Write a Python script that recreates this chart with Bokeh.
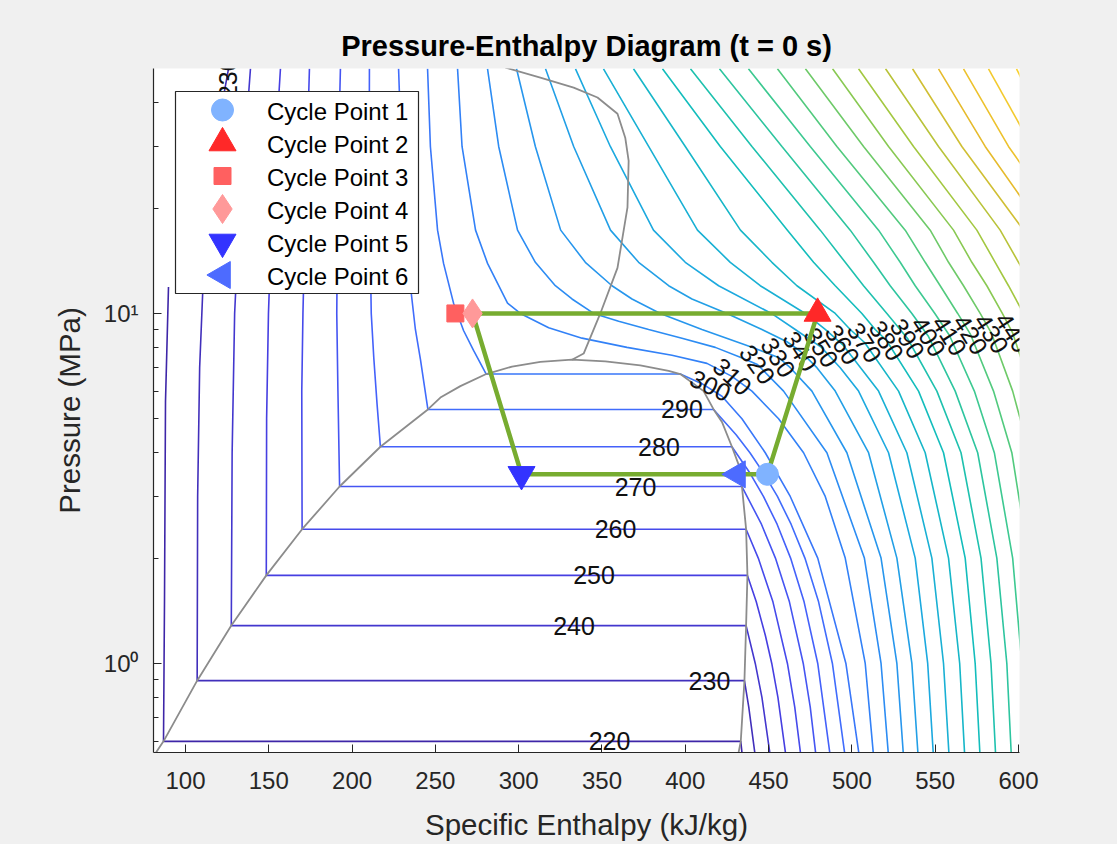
import math
from bokeh.plotting import figure
from bokeh.models import Range1d, FixedTicker, Legend, LegendItem, Label, BoxAnnotation
from bokeh.embed import file_html
from bokeh.resources import INLINE

FONT = "Liberation Sans"

# ---------------- axes ----------------
x_ticks = [100, 150, 200, 250, 300, 350, 400, 450, 500, 550, 600]
y_major = [1, 10]
y_minor = [0.6, 0.7, 0.8, 0.9, 2, 3, 4, 5, 6, 7, 8, 9, 20, 30, 40]
X_LIM = (80.8, 600.6)
Y_LIM = (0.5567, 50.1)

# ---------------- isotherms (h kJ/kg, P MPa) ----------------
T220_h = [89.8, 88.0, 87.4, 86.8, 433.3, 434.0]
T220_p = [11.9, 5.6, 1.5, 0.599, 0.599, 0.557]
T230_h = [125.8, 119, 114.5, 110.5, 108.5, 107.3, 107.0, 435.5, 438.1, 441.7]
T230_p = [50, 33, 22, 12, 7, 3, 0.893, 0.893, 0.75, 0.557]
T240_h = [139, 136, 132.5, 129.5, 128, 127.5, 436.5, 442, 446, 450.7]
T240_p = [50, 32, 20, 10, 4, 1.283, 1.283, 1.0, 0.8, 0.557]
T250_h = [157, 154.5, 152, 149.8, 148.7, 148.5, 437.3, 442.6, 448.1, 451.9, 455.6, 460.1]
T250_p = [50, 32, 20, 10, 5, 1.785, 1.785, 1.5, 1.2, 1.0, 0.8, 0.557]
T260_h = [174.4, 173.2, 172, 170.5, 169.8, 170, 436.5, 443.8, 452.6, 461.3, 465.7, 469.1]
T260_p = [50, 32, 20, 10, 6, 2.419, 2.419, 2.0, 1.5, 1.0, 0.75, 0.557]
T270_h = [193, 192, 191.3, 190.8, 191.5, 192.5, 434, 445.7, 454.1, 462.5, 470.8, 475, 478.2]
T270_p = [50, 32, 20, 10, 6, 3.203, 3.203, 2.5, 2.0, 1.5, 1.0, 0.75, 0.557]
T280_h = [210.4, 210.3, 210.5, 211.5, 213, 215, 217, 428, 438.8, 446.9, 455.1, 463.2, 471.3, 479.5, 486.7]
T280_p = [50, 32, 20, 10, 7.5, 5.5, 4.161, 4.161, 3.5, 3.0, 2.5, 2.0, 1.5, 1.0, 0.557]
T290_h = [227.9, 229.5, 232, 235, 238, 241, 245.5, 417, 430.5, 438.8, 447, 455.3, 463.5, 471.8, 480, 488.3, 495.6]
T290_p = [50, 30, 17.3, 12, 9, 7.4, 5.318, 5.318, 4.5, 4.0, 3.5, 3.0, 2.5, 2.0, 1.5, 1.0, 0.557]
T300_h = [245.3, 247, 251.3, 254.9, 260.9, 266.9, 272.9, 280.5, 397, 410, 422, 434, 448, 463, 479.5, 496.4, 504.1]
T300_p = [50, 30, 17.3, 13.9, 10.7, 8.94, 7.84, 6.713, 6.713, 6.3, 5.8, 5.0, 4.0, 3.0, 2.0, 1.0, 0.557]
T310_h = [263.3, 266, 274.1, 281.3, 293.3, 301, 318, 338, 365, 392, 413, 428, 440, 456, 471, 484, 496, 508, 512.8]
T310_p = [50, 30, 17.3, 13.9, 10.7, 10, 9.1, 8.5, 8.0, 7.6, 7.2, 6.61, 6, 5, 4, 3, 2, 1, 0.557]
T320_h = [281.3, 288, 299.3, 310, 322, 332, 345, 360, 378, 398, 418, 433, 443.3, 459, 485, 507.5, 517.5, 521.8]
T320_p = [50, 30, 17.3, 14, 12, 11, 10, 9.5, 9, 8.5, 8, 7.5, 7.15, 6, 4, 2, 1, 0.557]
T330_h = [298.7, 310, 325.2, 340, 356, 368, 385, 410, 440, 455.9, 463, 476, 497, 517.5, 527, 530.8]
T330_p = [50, 30, 17.3, 14, 12, 11, 10, 9, 8, 7.49, 7, 6, 4, 2, 1, 0.557]
T340_h = [316.1, 333, 355.1, 372, 390, 404, 425, 446, 461, 469.1, 479, 490, 510, 527, 536, 539.6]
T340_p = [50, 30, 17.3, 14, 12, 11, 10, 9, 8.3, 7.8, 7, 6, 4, 2, 1, 0.557]
T350_h = [334.1, 355, 380.9, 400, 420, 451.7, 466, 481.7, 493, 504, 522, 538, 545.5, 548.8]
T350_p = [50, 30, 17.3, 14, 12, 10, 9, 8.0, 7, 6, 4, 2, 1, 0.557]
T360_h = [350.9, 378, 407.3, 427, 445, 472, 484, 494.4, 516, 533, 548, 555, 558.2]
T360_p = [50, 30, 17.3, 14, 12, 10, 9, 8.15, 6, 4, 2, 1, 0.557]
T370_h = [368.9, 400, 433.1, 452, 467, 490, 499, 507.6, 528, 544, 558, 564.7, 567.6]
T370_p = [50, 30, 17.3, 14, 12, 10, 9, 8.26, 6, 4, 2, 1, 0.557]
T380_h = [386.3, 421, 461.3, 477, 490, 506, 514, 520.8, 540, 555, 568, 574, 576.8]
T380_p = [50, 30, 17.3, 14, 12, 10, 9, 8.37, 6, 4, 2, 1, 0.557]
T390_h = [403.1, 440, 481, 496, 507, 521, 533.4, 551, 565.5, 577.5, 583.5, 586.2]
T390_p = [50, 30, 17.3, 14, 12, 10, 8.48, 6, 4, 2, 1, 0.557]
T400_h = [420.5, 458, 499, 513, 523, 536, 546, 562, 575.5, 587, 593, 595.6]
T400_p = [50, 30, 17.3, 14, 12, 10, 8.59, 6, 4, 2, 1, 0.557]
T410_h = [437.9, 475, 516, 529, 538, 549.8, 558.6, 573.5, 585.5, 596.5, 602, 605]
T410_p = [50, 30, 17.3, 14, 12, 10, 8.65, 6, 4, 2, 1, 0.557]
T420_h = [455.3, 491, 532, 544, 553, 563.5, 571.2, 585, 596, 606, 611, 614.4]
T420_p = [50, 30, 17.3, 14, 12, 10, 8.71, 6, 4, 2, 1, 0.557]
T430_h = [472.1, 507, 547, 558, 567, 577, 583.8, 596.5, 606.5]
T430_p = [50, 30, 17.3, 14, 12, 10, 8.77, 6, 4]
T440_h = [488.4, 522, 561, 572, 581, 590.3, 596.4, 608]
T440_p = [50, 30, 17.3, 14, 12, 10, 8.82, 6]
T450_h = [504, 537, 575, 586, 594, 603]
T450_p = [50, 30, 17.3, 14, 12, 10]
T460_h = [520.2, 552, 589, 600, 608]
T460_p = [50, 30, 17.3, 14, 12]
T470_h = [536.4, 566, 603, 614]
T470_p = [50, 30, 17.3, 14]
T480_h = [552, 580, 606, 616]
T480_p = [50, 30, 20, 17.3]
T490_h = [567, 594, 620]
T490_p = [50, 30, 20]
T500_h = [582, 608]
T500_p = [50, 30]
T510_h = [598.8, 622]
T510_p = [50, 30]

iso_T = [220, 230, 240, 250, 260, 270, 280, 290, 300, 310, 320, 330, 340, 350,
         360, 370, 380, 390, 400, 410, 420, 430, 440, 450, 460, 470, 480, 490, 500, 510]

# ---------------- saturation dome ----------------
sat_h = [82.3, 86.8, 107.0, 127.5, 148.5, 170.0, 192.5, 217.0, 245.5, 253, 265, 280.5, 296, 313, 332,
         352, 373, 390, 397, 411, 417, 422, 428, 432, 434, 436.5, 437.3, 436.5, 435.5, 433.3, 432.0]
sat_p = [0.557, 0.599, 0.893, 1.283, 1.785, 2.419, 3.203, 4.161, 5.318, 5.75, 6.2, 6.713, 7.05, 7.27, 7.377,
         7.3, 7.11, 6.85, 6.713, 6.0, 5.318, 4.9, 4.161, 3.7, 3.203, 2.419, 1.785, 1.283, 0.893, 0.599, 0.557]
upper_h = [332, 339, 349, 359.3, 365.3, 366, 364, 359.3, 347.3, 333, 313, 292]
upper_p = [7.377, 7.68, 10, 13.5, 20.1, 27.3, 31.7, 37.2, 41.4, 44.2, 47.2, 50.4]

# ---------------- cycle ----------------
cycle_labels = ["Cycle Point 1", "Cycle Point 2", "Cycle Point 3",
                "Cycle Point 4", "Cycle Point 5", "Cycle Point 6"]
cycle_h = [449.3, 479.4, 262.0, 272.3, 301.7, 431.3]
cycle_p = [3.47, 10.0, 10.0, 10.0, 3.47, 3.47]
cycle_order = [0, 1, 2, 3, 4, 5, 0]

# ---------------- contour labels ----------------
lab_T = [220, 230, 240, 250, 260, 270, 280, 290,
         300, 310, 320, 330, 340, 350, 360, 370, 380, 390, 400, 410, 420, 430, 440]
lab_h = [354.5, 414.5, 333.2, 345.2, 358.1, 370.1, 384.2, 398.0,
         415.1, 428.3, 443.3, 455.9, 469.1, 481.7, 494.4, 507.6, 520.8, 533.4, 546.0, 558.6, 571.2, 583.8, 596.4]
lab_p = [0.599, 0.893, 1.283, 1.785, 2.419, 3.203, 4.161, 5.318,
         6.23, 6.61, 7.15, 7.49, 7.80, 8.0, 8.15, 8.26, 8.37, 8.48, 8.59, 8.65, 8.71, 8.77, 8.82]
lab_angle = [0, 0, 0, 0, 0, 0, 0, 0,
             -0.45, -0.75, -0.95, -1.0, -1.0, -1.0, -1.0, -1.0, -1.0, -1.0, -1.0, -1.0, -1.0, -1.0, -1.0]
top_label = "230"
top_label_h = 125.8
top_label_p = 47.0

# ---------------- style ----------------
PARULA_KEYS = [(0.2422, 0.1504, 0.6603), (0.2783, 0.2559, 0.8991), (0.2650, 0.4008, 0.9929),
               (0.1775, 0.5394, 0.9601), (0.1113, 0.6635, 0.8763), (0.0700, 0.7456, 0.7257),
               (0.2688, 0.7946, 0.5378), (0.6174, 0.7876, 0.2612), (0.9035, 0.7330, 0.1774),
               (0.9839, 0.8261, 0.1826), (0.9769, 0.9839, 0.0805)]
T_LO, T_HI = 220.0, 545.0


def parula(t):
    t = min(max(t, 0.0), 1.0) * (len(PARULA_KEYS) - 1)
    i = min(int(t), len(PARULA_KEYS) - 2)
    f = t - i
    c = [PARULA_KEYS[i][k] * (1 - f) + PARULA_KEYS[i + 1][k] * f for k in range(3)]
    return "#%02x%02x%02x" % tuple(int(round(v * 255)) for v in c)


TXT = "#262626"
W, H = 1117, 844
BL, BR, BT, BB = 153, 98, 68, 92
FRAME_W = W - BL - BR
FRAME_H = H - BT - BB


def px_to_data(px, py_top):
    """frame pixel (from left, from top) -> data coordinates (legend decoration only)"""
    xv = X_LIM[0] + px / FRAME_W * (X_LIM[1] - X_LIM[0])
    ly0, ly1 = math.log10(Y_LIM[0]), math.log10(Y_LIM[1])
    yv = 10 ** (ly1 - py_top / FRAME_H * (ly1 - ly0))
    return xv, yv


p = figure(width=W, height=H,
           x_range=Range1d(*X_LIM), y_range=Range1d(*Y_LIM),
           y_axis_type="log", output_backend="svg", toolbar_location=None,
           title="Pressure-Enthalpy Diagram (t = 0 s)",
           min_border_left=BL, min_border_right=BR, min_border_top=BT, min_border_bottom=BB)
p.border_fill_color = "#f0f0f0"
p.background_fill_color = "white"
p.outline_line_color = None
p.xgrid.visible = False
p.ygrid.visible = False

p.title.text_font = FONT
p.title.text_font_size = "29px"
p.title.text_font_style = "bold"
p.title.text_color = "#000000"
p.title.align = "center"
p.title.standoff = 13

for ax in (p.xaxis[0], p.yaxis[0]):
    ax.axis_line_color = TXT
    ax.axis_line_width = 1.2
    ax.major_tick_line_color = TXT
    ax.minor_tick_line_color = TXT
    ax.major_tick_out = 0
    ax.major_tick_in = 8
    ax.minor_tick_out = 0
    ax.minor_tick_in = 5
    ax.major_label_text_font = FONT
    ax.major_label_text_font_size = "24px"
    ax.major_label_text_color = TXT
    ax.axis_label_text_font = FONT
    ax.axis_label_text_font_size = "29.5px"
    ax.axis_label_text_font_style = "normal"
    ax.axis_label_text_color = TXT

p.xaxis.ticker = FixedTicker(ticks=x_ticks)
p.xaxis.minor_tick_line_color = None
p.xaxis.axis_label = "Specific Enthalpy (kJ/kg)"
p.xaxis.major_label_standoff = 19
p.xaxis.axis_label_standoff = 16

p.yaxis.ticker = FixedTicker(ticks=y_major, minor_ticks=y_minor)
p.yaxis.major_label_overrides = {1: "10\u2070", 10: "10\u00b9"}
p.yaxis.axis_label = "Pressure (MPa)"
p.yaxis.major_label_standoff = 15
p.yaxis.axis_label_standoff = 15

# isotherms
g = globals()
for T in iso_T:
    hs = g["T%d_h" % T]
    ps = g["T%d_p" % T]
    p.line(hs, ps, line_color=parula((T - T_LO) / (T_HI - T_LO)), line_width=1.6)

# dome
p.line(sat_h, sat_p, line_color="#8c8c8c", line_width=1.8)
p.line(upper_h, upper_p, line_color="#8c8c8c", line_width=1.8)

# cycle
p.line([cycle_h[i] for i in cycle_order], [cycle_p[i] for i in cycle_order],
       line_color="#77AC30", line_width=4.5, level="overlay")

markers = ["circle", "triangle", "square", "diamond", "inverted_triangle", "triangle"]
angles = [0, 0, 0, 0, 0, math.pi / 2]
sizes = [22, 27, 17, 29, 27, 27]
colors = ["#80B3FF", "#FF2828", "#FF6060", "#FF9999", "#3333FF", "#4D6BFF"]
for i in range(6):
    p.scatter([cycle_h[i]], [cycle_p[i]], marker=markers[i], size=sizes[i], angle=angles[i],
              fill_color=colors[i], line_color=colors[i], level="overlay")

# contour labels (background pass, then text pass)
try:
    Label(x=0, y=0, text="a", padding=3)
    PAD = {"padding": 4}
except Exception:
    PAD = {}

for i, T in enumerate(lab_T):
    p.add_layout(Label(x=lab_h[i], y=lab_p[i], text=str(T), angle=lab_angle[i],
                       text_align="center", text_baseline="middle",
                       text_font=FONT, text_font_size="25px", text_alpha=0.0,
                       background_fill_color="white", background_fill_alpha=1.0, **PAD))
for i, T in enumerate(lab_T):
    p.add_layout(Label(x=lab_h[i], y=lab_p[i], text=str(T), angle=lab_angle[i],
                       text_align="center", text_baseline="middle",
                       text_font=FONT, text_font_size="25px", text_color="#111111"))
p.add_layout(Label(x=top_label_h, y=top_label_p, text=top_label, angle=math.pi / 2,
                   text_align="center", text_baseline="middle",
                   text_font=FONT, text_font_size="25px", text_color="#111111"))

# ---------------- legend ----------------
GH, GW = 33, 60
LEG_X, LEG_TOP = 22, 23            # legend box offset inside frame (px)
LEG_W, PADL, PADV = 243, 17, 2
TEXT_SHIFT = 16
leg_h = 6 * GH + 2 * PADV

# legend box (drawn as an annotation so that the legend symbols can sit on top)
bx0, by0 = px_to_data(LEG_X, LEG_TOP)
bx1, by1 = px_to_data(LEG_X + LEG_W, LEG_TOP + leg_h)
p.add_layout(BoxAnnotation(left=bx0, right=bx1, top=by0, bottom=by1,
                           fill_color="white", fill_alpha=1.0,
                           line_color=TXT, line_width=1.2, line_alpha=1.0))

items = []
for i in range(6):
    r = p.scatter([float("nan")], [float("nan")], marker=markers[i], size=10,
                  fill_color=colors[i], line_color=colors[i], fill_alpha=0.0, line_alpha=0.0)
    items.append(LegendItem(label=cycle_labels[i], renderers=[r]))

legend = Legend(items=items, location=(LEG_X + TEXT_SHIFT, FRAME_H - LEG_TOP - leg_h),
                glyph_height=GH, glyph_width=GW, spacing=0,
                padding=dict(left=PADL, right=8, top=PADV, bottom=PADV),
                label_standoff=16, label_width=135, label_height=GH,
                label_text_font=FONT, label_text_font_size="24px", label_text_color="#000000",
                border_line_color=None, background_fill_alpha=0.0)
p.add_layout(legend)

# legend symbols
for i in range(6):
    sx = LEG_X + PADL + GW / 2.0
    sy = LEG_TOP + PADV + (i + 0.5) * GH
    lx, ly = px_to_data(sx, sy)
    p.scatter([lx], [ly], marker=markers[i], size=sizes[i], angle=angles[i],
              fill_color=colors[i], line_color=colors[i], level="overlay")

html = file_html(p, INLINE, title="P-h diagram")
html = html.replace("<body>", '<body style="background:#f0f0f0;">')
open("out.html", "w").write(html)
